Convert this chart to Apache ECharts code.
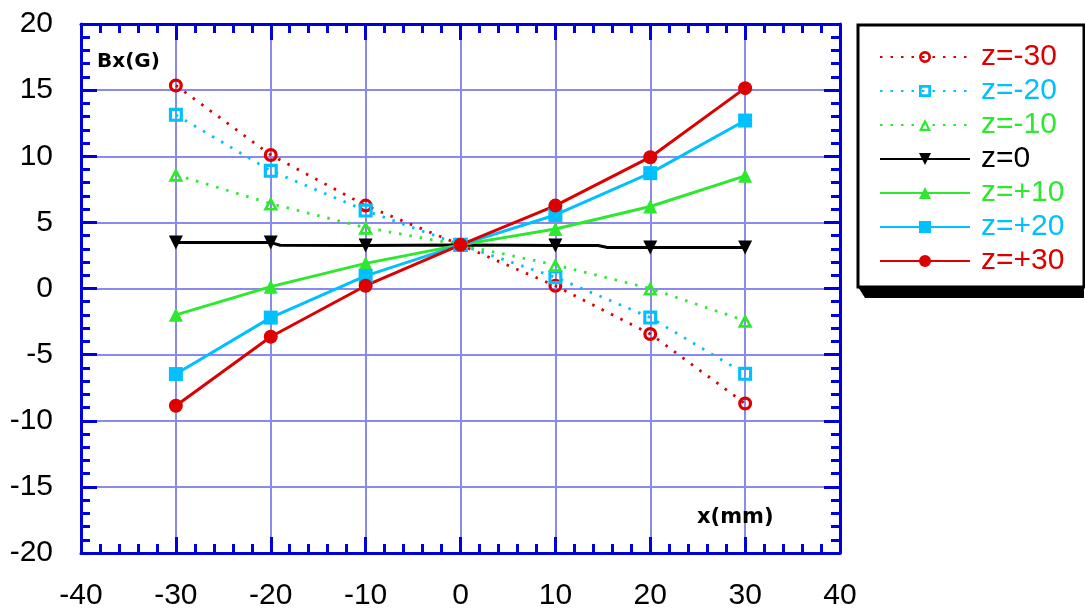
<!DOCTYPE html>
<html>
<head>
<meta charset="utf-8">
<script src="https://cdn.jsdelivr.net/npm/echarts@6/dist/echarts.min.js"></script>
<style>html,body{margin:0;padding:0;background:#fff}#c{width:1085px;height:612px}</style>
</head>
<body>
<div id="c"></div>
<script>
var xs = [-30, -20, -10, 0, 10, 20, 30];
var zm30 = [15.35, 10.1, 6.27, 3.3, 0.2, -3.44, -8.7];
var zm20 = [13.13, 8.9, 5.89, 3.3, 0.85, -2.2, -6.45];
var zm10 = [8.6, 6.42, 4.6, 3.3, 1.78, 0.0, -2.44];
var z0x = [-30, -20, -19, -10, 0, 10, 14.5, 15.5, 20, 30];
var z0y = [3.47, 3.47, 3.27, 3.25, 3.28, 3.25, 3.25, 3.1, 3.1, 3.1];
var z0marked = [true, true, false, true, true, true, false, false, true, true];
var zp10 = [-1.99, 0.14, 1.9, 3.3, 4.5, 6.2, 8.52];
var zp20 = [-6.47, -2.2, 0.95, 3.3, 5.56, 8.72, 12.7];
var zp30 = [-8.87, -3.65, 0.21, 3.3, 6.27, 9.93, 15.15];
var names = ['z=-30', 'z=-20', 'z=-10', 'z=0', 'z=+10', 'z=+20', 'z=+30'];
var xTicks = [-40, 40, 10];
var yTicks = [-20, 20, 5];

var RED = '#dd0000', BLUE = '#00c0ff', GREEN = '#2ee82e', BLACK = '#000000';
var AX = '#0000dd', GRIDC = '#8a8aee';

var RING = 'path://M0,10A10,10,0,1,1,20,10A10,10,0,1,1,0,10ZM4.6,10A5.4,5.4,0,1,0,15.4,10A5.4,5.4,0,1,0,4.6,10Z';
var SQRING = 'path://M0,0L20,0L20,20L0,20ZM4.5,4.5L4.5,15.5L15.5,15.5L15.5,4.5Z';
var TRIRING = 'path://M10,0L20,18L0,18ZM10,7.2L5.8,14.6L14.2,14.6Z';

function pts(arr) { return xs.map(function (x, i) { return [x, arr[i]]; }); }
var z0data = z0x.map(function (x, i) {
  return z0marked[i] ? [x, z0y[i]] : { value: [x, z0y[i]], symbol: 'none' };
});

function dotted(name, color, sym, size, data) {
  return {
    name: name, type: 'line', data: data, symbol: sym, symbolSize: size,
    lineStyle: { color: color, width: 2.8, type: [2.5, 8] },
    itemStyle: { color: color, borderWidth: 0 },
    emphasis: { disabled: true }, animation: false, z: 3
  };
}
function solid(name, color, sym, size, data, rot) {
  return {
    name: name, type: 'line', data: data, symbol: sym, symbolSize: size,
    symbolRotate: rot || 0,
    lineStyle: { color: color, width: 3, type: 'solid' },
    itemStyle: { color: color, borderWidth: 0 },
    emphasis: { disabled: true }, animation: false, z: 4
  };
}

function xAx(pos, labels) {
  return {
    type: 'value', position: pos, min: xTicks[0], max: xTicks[1], interval: xTicks[2],
    axisLine: { show: true, onZero: false, lineStyle: { color: AX, width: 3 } },
    axisTick: { show: true, inside: true, length: 16, lineStyle: { color: AX, width: 3 } },
    minorTick: { show: true, splitNumber: 5, length: 9, lineStyle: { color: AX, width: 3 } },
    splitLine: { show: labels, lineStyle: { color: GRIDC, width: 2 } },
    axisLabel: { show: labels, color: '#000', fontSize: 30, fontFamily: 'Liberation Sans', margin: 28 }
  };
}
function yAx(pos, labels) {
  return {
    type: 'value', position: pos, min: yTicks[0], max: yTicks[1], interval: yTicks[2],
    axisLine: { show: true, onZero: false, lineStyle: { color: AX, width: 3 } },
    axisTick: { show: true, inside: true, length: 16, lineStyle: { color: AX, width: 3 } },
    minorTick: { show: true, splitNumber: 5, length: 9, lineStyle: { color: AX, width: 3 } },
    splitLine: { show: labels, lineStyle: { color: GRIDC, width: 2 } },
    axisLabel: { show: labels, color: '#000', fontSize: 30, fontFamily: 'Liberation Sans', margin: 28 }
  };
}

var chart = echarts.init(document.getElementById('c'), null, { renderer: 'canvas' });
chart.setOption({
  animation: false,
  backgroundColor: '#fff',
  grid: { left: 81, top: 24, right: 245, bottom: 59, containLabel: false },
  xAxis: [xAx('bottom', true), xAx('top', false)],
  yAxis: [yAx('left', true), yAx('right', false)],
  legend: {
    left: 879, top: 42, padding: 0, orient: 'vertical', itemWidth: 90, itemHeight: 15, itemGap: 4,
    selectedMode: false,
    textStyle: { fontSize: 30, fontFamily: 'Liberation Sans', lineHeight: 30, padding: [0, 0, 0, 6] },
    data: names.map(function (n, i) {
      var cols = [RED, BLUE, GREEN, BLACK, GREEN, BLUE, RED];
      return { name: n, textStyle: { color: cols[i] } };
    })
  },
  graphic: [
    { type: 'polygon', z: 1, shape: { points: [[858, 287], [1084, 287], [1084, 298], [865, 298]] }, style: { fill: '#000' } },
    { type: 'rect', z: 1, shape: { x: 858, y: 25, width: 226, height: 262 }, style: { fill: '#fff', stroke: '#000', lineWidth: 3 } },
    { type: 'text', z: 10, left: 97, top: 52, style: { text: 'Bx(G)', font: 'bold 20px "DejaVu Sans"', fill: '#000' } },
    { type: 'text', z: 10, left: 697, top: 507, style: { text: 'x(mm)', font: 'bold 21px "DejaVu Sans"', fill: '#000' } }
  ],
  series: [
    dotted(names[0], RED, RING, 14, pts(zm30)),
    dotted(names[1], BLUE, SQRING, 14, pts(zm20)),
    dotted(names[2], GREEN, TRIRING, [15, 14], pts(zm10)),
    solid(names[3], BLACK, 'triangle', 14, z0data, 180),
    solid(names[4], GREEN, 'triangle', 14, pts(zp10)),
    solid(names[5], BLUE, 'rect', 14, pts(zp20)),
    solid(names[6], RED, 'circle', 14, pts(zp30))
  ]
});
</script>
</body>
</html>
